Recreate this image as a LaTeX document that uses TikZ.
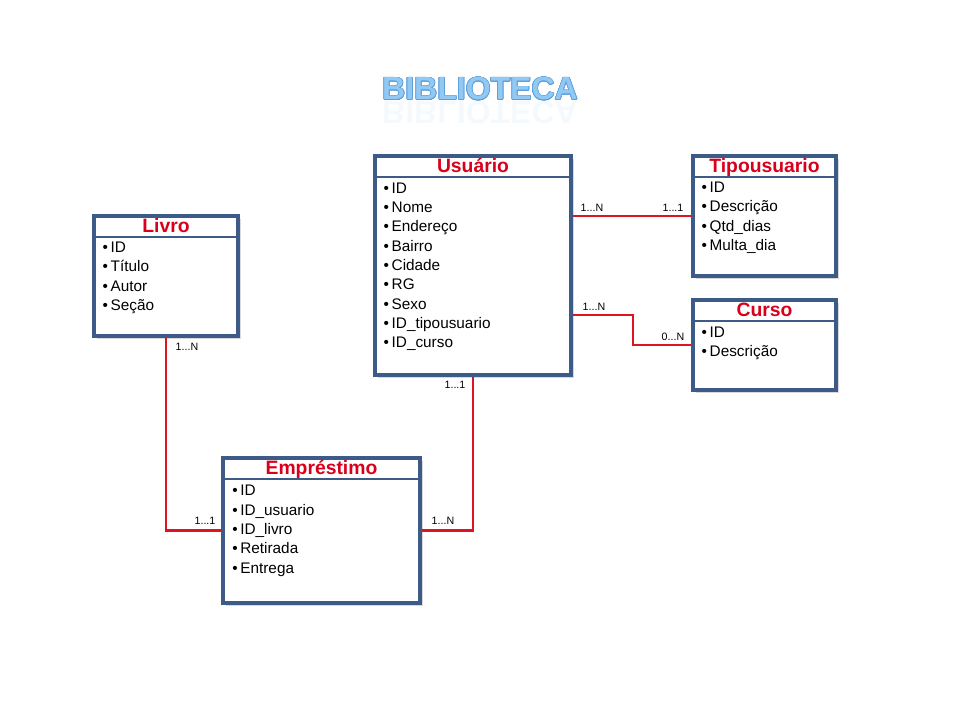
\documentclass[tikz,border=0pt]{standalone}
\usepackage{fontspec}
\setmainfont{Liberation Sans}
\usepackage{contour}
\contourlength{0.5pt}
\usepackage{tikz}
\usetikzlibrary{
    calc,
    shadows
}
\definecolor{boxblue}{HTML}{3C5B86}
\definecolor{relred}{HTML}{E0141E}
\definecolor{titlered}{HTML}{D9001B}
\definecolor{skyblue}{HTML}{92C9F3}
\definecolor{skyline}{HTML}{5C9DDA}

\begin{document}
\begin{tikzpicture}[x=0.75pt,y=-0.75pt,
  entity/.style={draw=boxblue, line width=2.4pt, fill=white, inner sep=0pt,
    drop shadow={opacity=0.3, shadow xshift=2pt, shadow yshift=-2pt}},
  headline/.style={draw=boxblue, line width=2pt},
  ename/.style={text=titlered, anchor=base, inner sep=0pt, font=\bfseries\fontsize{14.5}{17}\selectfont},
  attrs/.style={anchor=north west, align=left, inner sep=0pt, font=\fontsize{11.5}{14.5}\selectfont},
  rel/.style={draw=relred, line width=1.6pt},
  card/.style={inner sep=0pt, font=\fontsize{8}{9}\selectfont}]
  \useasboundingbox (0,0) rectangle (960,720);

  % Title with its reflection
  \node[text=skyblue, font=\bfseries\fontsize{24}{28}\selectfont] (titulo) at (480,89)
    {\contour{skyline}{BIBLIOTECA}};
  \node[text=skyblue, opacity=0.1, yscale=-1, transform shape,
    font=\bfseries\fontsize{24}{28}\selectfont] (reflexo) at (480,113) {BIBLIOTECA};

  % Entity Usuario
  \node[entity, minimum width=196*0.75pt, minimum height=219*0.75pt] (usuario) at (473,265.5) {};
  \draw[headline] ([yshift=-17pt]usuario.north west) -- ([yshift=-17pt]usuario.north east);
  \node[ename] (usuario-t) at ([yshift=-13.3pt]usuario.north) {Usuário};
  \node[attrs] (usuario-a) at ([xshift=7.5pt,yshift=-21pt]usuario.north west)
    {\textbullet\hspace{2pt}ID\\ \textbullet\hspace{2pt}Nome\\ \textbullet\hspace{2pt}Endereço\\
     \textbullet\hspace{2pt}Bairro\\ \textbullet\hspace{2pt}Cidade\\ \textbullet\hspace{2pt}RG\\
     \textbullet\hspace{2pt}Sexo\\ \textbullet\hspace{2pt}ID\_tipousuario\\ \textbullet\hspace{2pt}ID\_curso};

  % Entity Tipousuario
  \node[entity, minimum width=143*0.75pt, minimum height=120*0.75pt] (tipo) at (764.5,216) {};
  \draw[headline] ([yshift=-17pt]tipo.north west) -- ([yshift=-17pt]tipo.north east);
  \node[ename] (tipo-t) at ([yshift=-13.3pt]tipo.north) {Tipousuario};
  \node[attrs] (tipo-a) at ([xshift=7.5pt,yshift=-20.5pt]tipo.north west)
    {\textbullet\hspace{2pt}ID\\ \textbullet\hspace{2pt}Descrição\\
     \textbullet\hspace{2pt}Qtd\_dias\\ \textbullet\hspace{2pt}Multa\_dia};

  % Entity Curso
  \node[entity, minimum width=143*0.75pt, minimum height=90*0.75pt] (curso) at (764.5,345) {};
  \draw[headline] ([yshift=-17pt]curso.north west) -- ([yshift=-17pt]curso.north east);
  \node[ename] (curso-t) at ([yshift=-13.3pt]curso.north) {Curso};
  \node[attrs] (curso-a) at ([xshift=7.5pt,yshift=-21pt]curso.north west)
    {\textbullet\hspace{2pt}ID\\ \textbullet\hspace{2pt}Descrição};

  % Entity Livro
  \node[entity, minimum width=144*0.75pt, minimum height=120*0.75pt] (livro) at (166,276) {};
  \draw[headline] ([yshift=-17pt]livro.north west) -- ([yshift=-17pt]livro.north east);
  \node[ename] (livro-t) at ([yshift=-13.3pt]livro.north) {Livro};
  \node[attrs] (livro-a) at ([xshift=7.5pt,yshift=-20.5pt]livro.north west)
    {\textbullet\hspace{2pt}ID\\ \textbullet\hspace{2pt}Título\\
     \textbullet\hspace{2pt}Autor\\ \textbullet\hspace{2pt}Seção};

  % Entity Emprestimo
  \node[entity, minimum width=197*0.75pt, minimum height=145*0.75pt] (emprestimo) at (321.5,530.5) {};
  \draw[headline] ([yshift=-17pt]emprestimo.north west) -- ([yshift=-17pt]emprestimo.north east);
  \node[ename] (emprestimo-t) at ([yshift=-13.3pt]emprestimo.north) {Empréstimo};
  \node[attrs] (emprestimo-a) at ([xshift=8pt,yshift=-21.5pt]emprestimo.north west)
    {\textbullet\hspace{2pt}ID\\ \textbullet\hspace{2pt}ID\_usuario\\ \textbullet\hspace{2pt}ID\_livro\\
     \textbullet\hspace{2pt}Retirada\\ \textbullet\hspace{2pt}Entrega};

  % Relationships
  \draw[rel] (usuario.east |- tipo.west) -- (tipo.west);
  \draw[rel] ([yshift=-37pt]usuario.east) -- ++(60,0) |- (curso.west);
  \draw[rel] (livro.south) |- (emprestimo.west);
  \draw[rel] (usuario.south) |- (emprestimo.east);

  % Cardinalities
  \node[card] (c-ut) at (592,208) {1...N};
  \node[card] (c-tu) at (673,208) {1...1};
  \node[card] (c-uc) at (594,307) {1...N};
  \node[card] (c-cu) at (673,337) {0...N};
  \node[card] (c-le) at (187,347) {1...N};
  \node[card] (c-el) at (205,521) {1...1};
  \node[card] (c-ue) at (455,385) {1...1};
  \node[card] (c-eu) at (443,521) {1...N};
\end{tikzpicture}
\end{document}
